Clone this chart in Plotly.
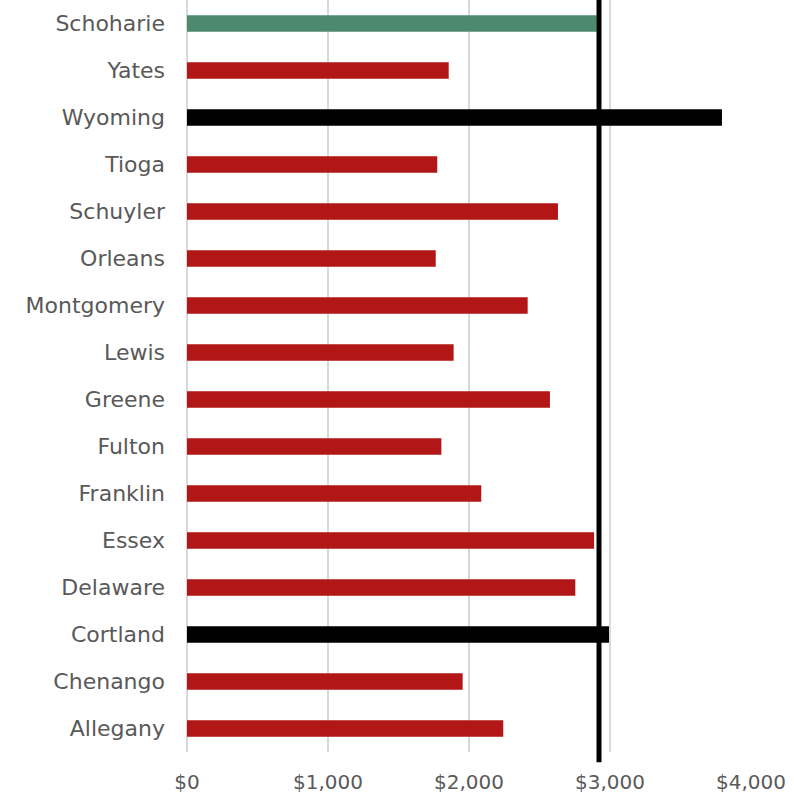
import plotly.graph_objects as go

counties = ["Schoharie", "Yates", "Wyoming", "Tioga", "Schuyler", "Orleans",
            "Montgomery", "Lewis", "Greene", "Fulton", "Franklin", "Essex",
            "Delaware", "Cortland", "Chenango", "Allegany"]
values = [2906, 1856, 3794, 1775, 2631, 1764, 2416, 1891, 2574, 1804,
          2087, 2887, 2754, 2993, 1955, 2243]
benchmark_value = 2922
tick_values = [0, 1000, 2000, 3000, 4000]
tick_labels = ["$0", "$1,000", "$2,000", "$3,000", "$4,000"]

highlight = "Schoharie"
black_bars = ["Wyoming", "Cortland"]
colors = ["#4D8A6D" if c == highlight else ("#000000" if c in black_bars else "#B21616")
          for c in counties]

fig = go.Figure()
fig.add_trace(go.Bar(
    y=counties, x=values, orientation="h",
    marker=dict(color=colors, line=dict(width=0)),
    hoverinfo="x+y",
))

fig.add_shape(type="line", xref="x", yref="paper",
              x0=benchmark_value, x1=benchmark_value, y0=-0.0135, y1=1.0,
              line=dict(color="#000000", width=5), layer="above")

font_family = "DejaVu Sans"
fig.update_layout(
    width=794, height=799,
    margin=dict(l=187, r=43, t=0, b=47),
    paper_bgcolor="white", plot_bgcolor="white",
    bargap=0.645,
    showlegend=False,
    font=dict(family=font_family, size=20, color="#595959"),
)
fig.update_xaxes(
    range=[0, 4000], tickvals=tick_values, ticktext=tick_labels,
    showgrid=True, gridcolor="#D9D9D9", gridwidth=2,
    zeroline=True, zerolinecolor="#D9D9D9", zerolinewidth=2,
    showline=False, ticks="", ticklabelstandoff=16,
    tickfont=dict(family=font_family, size=20, color="#595959"),
)
fig.update_yaxes(
    autorange="reversed", showgrid=False, zeroline=False,
    showline=False, ticks="", ticklabelstandoff=21,
    tickfont=dict(family=font_family, size=22, color="#595959"),
)

fig.write_html("out.html", config={"displayModeBar": False},
               post_script="document.body.style.margin='0px';document.body.style.padding='0px';")
